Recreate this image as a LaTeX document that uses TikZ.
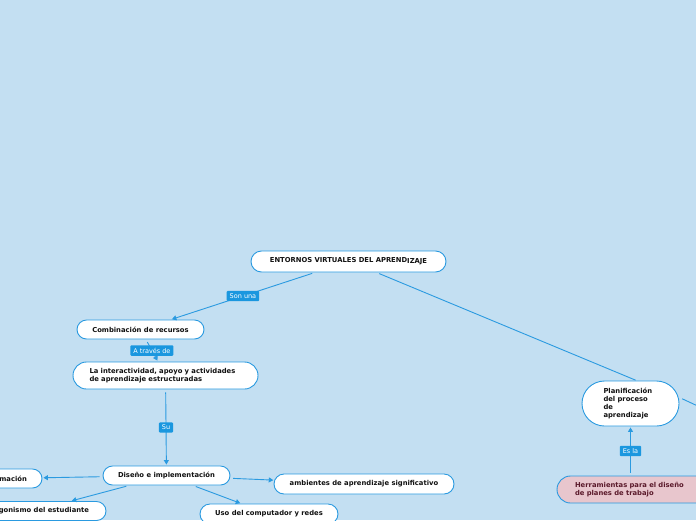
\documentclass[tikz,border=0pt]{standalone}
\usepackage{fontspec}
\setmainfont{DejaVu Sans}
\usepackage{tikz}
\usetikzlibrary{arrows.meta,calc,shapes.misc}
\usepackage{xcolor}
\definecolor{mapbg}{HTML}{C3DFF2}
\definecolor{edgeblue}{HTML}{2A9AE0}
\definecolor{tagblue}{HTML}{1A97DF}
\definecolor{pinkfill}{HTML}{E8C6CD}
\definecolor{maroon}{HTML}{5B1A2B}
\definecolor{inkdark}{HTML}{111111}

\begin{document}
\begin{tikzpicture}[
    x=1pt, y=-1pt,
    topic/.style={
      rounded rectangle, draw=edgeblue, line width=0.9pt,
      fill=#1, text=inkdark,
      font=\fontsize{6.8}{8.2}\selectfont\bfseries,
      minimum height=19pt, inner sep=2pt,
    },
    topic/.default=white,
    link/.style={draw=edgeblue, line width=0.9pt, shorten <=3pt, shorten >=1pt},
    flow/.style={link, -{Triangle[length=4.5pt,width=5pt]}},
    tag/.style={
      fill=tagblue, text=white, font=\fontsize{6.5}{7.5}\selectfont,
      inner xsep=3pt, inner ysep=2.6pt, rounded corners=1pt,
    },
  ]

  % Canvas: 696 x 520 px, y runs downwards
  \useasboundingbox (0,0) rectangle (696,520);
  \fill[mapbg] (0,0) rectangle (696,520);
  \clip (0,0) rectangle (696,520);

  % =================== Central topic ===================
  \node[topic, minimum width=199pt, minimum height=21pt] (root) at (348.5,261.5)
    {ENTORNOS VIRTUALES DEL APREND\raisebox{-1.2pt}{IZAJE}};

  % =================== Left branch ===================
  \node[topic, minimum width=131pt] (comb) at (140.5,329.5) {Combinación de recursos};
  \node[topic, minimum width=189pt, minimum height=27pt, text width=152pt, align=left]
    (inter) at (165.5,375.5) {La interactividad, apoyo y actividades\\de aprendizaje estructuradas};
  \node[topic, minimum width=131pt] (diseno) at (166.5,475.5) {Diseño e implementación};

  % children of Diseño (some run off the canvas)
  \node[topic, minimum width=80pt] (info) at (4,478.5) {Información};
  \node[topic, minimum width=149pt] (prota) at (33.5,511) {Protagonismo del estudiante};
  \node[topic, minimum width=184pt, minimum height=20pt] (amb) at (364,484)
    {ambientes de aprendizaje significativo};
  \node[topic, minimum width=142pt, minimum height=20pt] (uso) at (269,514)
    {Uso del computador y redes};

  \draw[flow] (root) -- (comb) node[midway, tag] {Son una};
  \draw[flow] (comb) -- (inter) node[midway, tag] {A través de};
  \draw[flow] (inter) -- (diseno) node[midway, tag] {Su};
  \draw[flow] (diseno) -- (info);
  \draw[flow] (diseno) -- (prota);
  \draw[flow] (diseno) -- (amb);
  \draw[flow] (diseno) -- (uso);

  % =================== Right branch ===================
  \node[topic, minimum width=101pt, minimum height=45pt, text width=54pt, align=left]
    (plan) at (630.5,403.5) {Planificación\\del proceso\\de\\aprendizaje};
  \node[topic=pinkfill, text=maroon, minimum width=160pt, minimum height=27pt,
        text width=120pt, align=left]
    (herr) at (635,489.5) {Herramientas para el diseño\\de planes de trabajo};
  \coordinate (offright) at (745,428);

  \draw[link] ([xshift=28pt]root.south) -- ([xshift=6pt]plan.north);
  \draw[link] ([yshift=6pt]plan.east) -- (offright);
  \draw[flow] (herr.north -| plan) -- (plan.south) node[midway, tag] {Es la};

\end{tikzpicture}
\end{document}
